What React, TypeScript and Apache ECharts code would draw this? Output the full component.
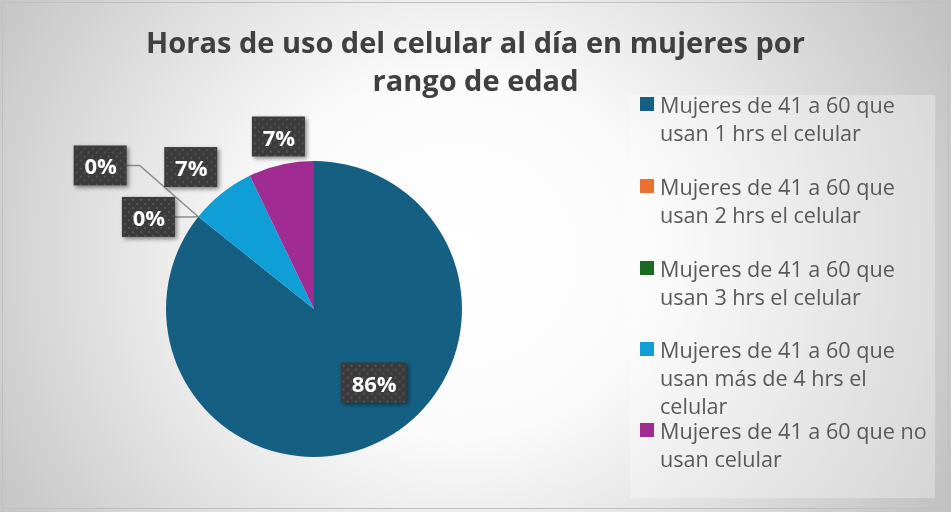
import React, { useEffect, useRef } from 'react';
import * as echarts from 'echarts';

const titleLines = ['Horas de uso del celular al día en mujeres por', 'rango de edad'];
const categories = [
  'Mujeres de 41 a 60 que usan 1 hrs el celular',
  'Mujeres de 41 a 60 que usan 2 hrs el celular',
  'Mujeres de 41 a 60 que usan 3 hrs el celular',
  'Mujeres de 41 a 60 que usan más de 4 hrs el celular',
  'Mujeres de 41 a 60 que no usan celular',
];
const values = [12, 0, 0, 1, 1];
const colors = ['#156082', '#E97132', '#196B24', '#0F9ED5', '#A02B93'];

// layout (pixels)
const W = 951;
const H = 512;
const CX = 314;
const CY = 309;
const R = 148;
// label placement, polar: radius factor and angle shift (deg, clockwise from slice middle)
const labelRF = [0.64, 1.74, 1.28, 1.27, 1.19];
const labelDA = [-13.3, -4.7, -9.5, -2.4, 1.2];
const leaderElbow = [0, 13, 15, 0, 0];
const legendItemY = [104, 186, 268, 349, 430];
const legendLinePitch = 28;
const FONT = '"Open Sans", "Noto Sans", sans-serif';
const LABEL_FONT_SIZE = 22;
const LABEL_PAD = [9, 10, 9, 11];

function wrapWords(s: string, maxChars: number): string[] {
  const words = s.split(' ');
  const lines: string[] = [];
  let cur = '';
  for (const w of words) {
    const cand = cur ? cur + ' ' + w : w;
    if (cand.length > maxChars && cur) {
      lines.push(cur);
      cur = w;
    } else cur = cand;
  }
  if (cur) lines.push(cur);
  return lines;
}

function dottedBox(text: string): { bg: any; width: number } {
  const fallbackW = text.length * 13 + LABEL_PAD[1] + LABEL_PAD[3];
  try {
    const c = document.createElement('canvas');
    const ctx = c.getContext('2d');
    if (!ctx) return { bg: '#3f3f3f', width: fallbackW };
    ctx.font = 'bold ' + LABEL_FONT_SIZE + 'px ' + FONT;
    const w = Math.round(ctx.measureText(text).width + LABEL_PAD[1] + LABEL_PAD[3]);
    const h = LABEL_FONT_SIZE + LABEL_PAD[0] + LABEL_PAD[2];
    c.width = w;
    c.height = h;
    const g = c.getContext('2d') as CanvasRenderingContext2D;
    g.fillStyle = '#3b3b3b';
    g.fillRect(0, 0, w, h);
    g.fillStyle = '#545454';
    for (let y = 2, r = 0; y < h; y += 4, r++) {
      for (let x = r % 2 ? 6 : 2; x < w; x += 8) {
        g.fillRect(x, y, 2, 2);
      }
    }
    return { bg: { image: c }, width: w };
  } catch (e) {
    return { bg: '#3f3f3f', width: fallbackW };
  }
}

export default function App() {
  const ref = useRef<HTMLDivElement>(null);
  useEffect(() => {
    if (!ref.current) return;
    const chart = echarts.init(ref.current, undefined, { renderer: 'svg', width: W, height: H });
    const total = values.reduce((a, b) => a + b, 0);
    const mids: number[] = [];
    let cum = 0;
    values.forEach((v) => {
      mids.push(((cum + v / 2) / total) * 360);
      cum += v;
    });
    const rad = (d: number) => (d * Math.PI) / 180;
    const labelPos = mids.map((m, i) => {
      const a = rad(m + labelDA[i]);
      return [CX + labelRF[i] * R * Math.sin(a), CY - labelRF[i] * R * Math.cos(a)];
    });
    const boxes = values.map((v) => dottedBox(Math.round((v / total) * 100) + '%'));

    const data = categories.map((name, i) => ({
      name,
      value: values[i],
      itemStyle: { color: colors[i] },
      labelLine: { show: values[i] === 0 },
      label: { backgroundColor: boxes[i].bg },
    }));

    const legendEls: any[] = [];
    categories.forEach((name, i) => {
      const cy = legendItemY[i];
      legendEls.push({
        type: 'rect',
        shape: { x: 640, y: cy - 7, width: 14, height: 14 },
        style: { fill: colors[i] },
      });
      wrapWords(name, 25).forEach((line, k) => {
        legendEls.push({
          type: 'text',
          x: 660,
          y: cy + k * legendLinePitch,
          style: {
            text: line,
            fill: '#595959',
            fontSize: 21.6,
            fontFamily: FONT,
            verticalAlign: 'middle',
            align: 'left',
          },
        });
      });
    });

    chart.setOption({
      animation: false,
      title: {
        text: titleLines.join('\n'),
        left: 'center',
        top: 22,
        padding: 0,
        textStyle: {
          fontSize: 29,
          fontWeight: 'bold',
          color: '#404040',
          fontFamily: FONT,
          lineHeight: 38,
        },
      },
      graphic: [
        {
          type: 'rect',
          shape: { x: 2.5, y: 2.5, width: 946, height: 506 },
          style: { fill: 'none', stroke: '#bfbfbf', lineWidth: 1 },
          silent: true,
        },
        {
          type: 'rect',
          shape: { x: 630, y: 95, width: 305, height: 403 },
          style: { fill: 'rgba(255,255,255,0.3)' },
          silent: true,
        },
        ...legendEls,
      ],
      series: [
        {
          type: 'pie',
          center: [CX, CY],
          radius: [0, R],
          startAngle: 90,
          clockwise: true,
          avoidLabelOverlap: false,
          data,
          itemStyle: { borderWidth: 0 },
          label: {
            show: true,
            position: 'outside',
            formatter: (p: any) => Math.round(p.percent) + '%',
            color: '#ffffff',
            fontSize: LABEL_FONT_SIZE,
            fontWeight: 'bold',
            fontFamily: FONT,
            padding: LABEL_PAD,
            shadowBlur: 4,
            shadowColor: 'rgba(0,0,0,0.45)',
            shadowOffsetX: 2,
            shadowOffsetY: 2,
          },
          labelLine: {
            show: false,
            lineStyle: { color: '#8c8c8c', width: 1.5 },
          },
          labelLayout: (params: any) => {
            const i = params.dataIndex;
            const [x, y] = labelPos[i];
            const res: any = { x, y, align: 'center', verticalAlign: 'middle' };
            if (values[i] === 0) {
              const right = x + boxes[i].width / 2;
              const a = rad(mids[i]);
              const anchor = [CX + R * Math.sin(a), CY - R * Math.cos(a)];
              res.labelLinePoints = [anchor, [right + leaderElbow[i], y], [right, y]];
            }
            return res;
          },
        },
      ],
    });
    return () => chart.dispose();
  }, []);
  return (
    <div
      ref={ref}
      style={{
        position: 'fixed',
        left: 0,
        top: 0,
        width: W,
        height: H,
        background:
          'radial-gradient(ellipse 58% 100% at 48% 50%, #ffffff 0%, #fbfbfb 35%, #c2c2c2 100%)',
      }}
    />
  );
}
